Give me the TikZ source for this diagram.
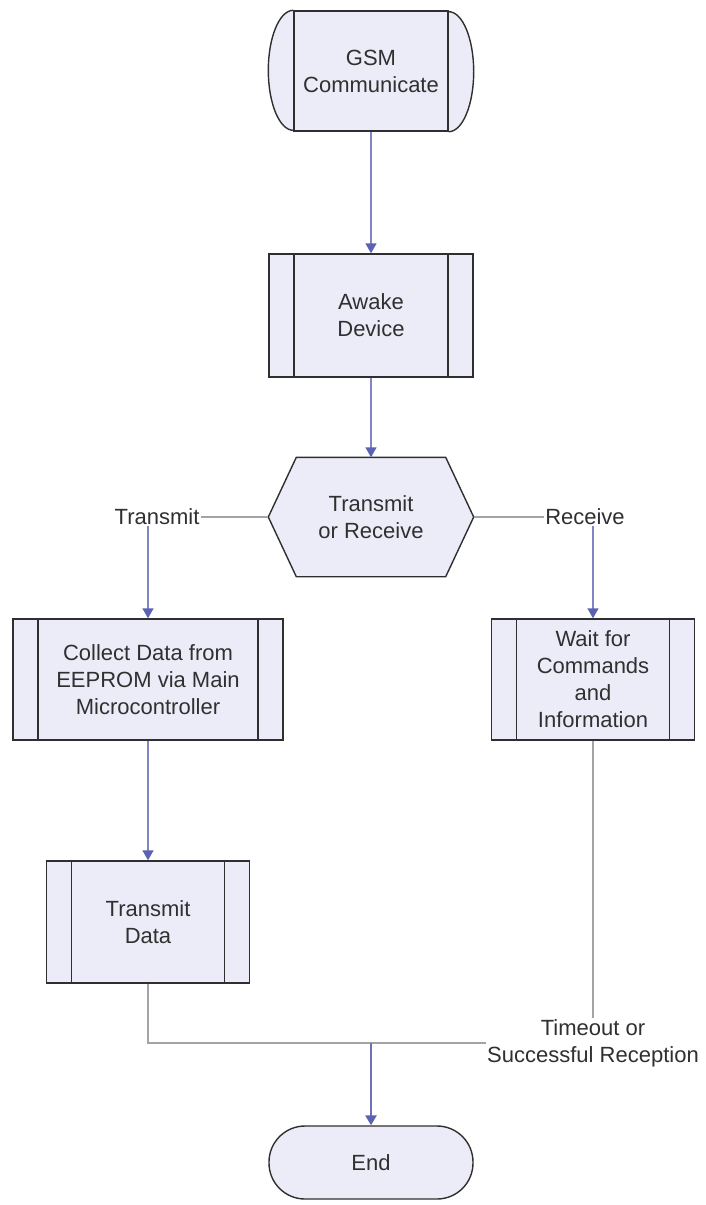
\documentclass[tikz,border=0pt]{standalone}
\usepackage{fontspec}
\setmainfont{Liberation Sans}
\usetikzlibrary{arrows.meta,calc,positioning,backgrounds}
\definecolor{BoxFill}{HTML}{ECECF9}
\definecolor{BoxLine}{HTML}{2F2F2F}
\definecolor{LinkGray}{HTML}{A3A3A8}
\definecolor{LinkBlue}{HTML}{8086C2}
\definecolor{TipBlue}{HTML}{5B62B2}
\definecolor{TextGray}{HTML}{303030}
\tikzset{
  boxtext/.style={font=\fontsize{22}{27}\selectfont,text=TextGray,align=center,inner sep=0pt},
  procbox/.style={boxtext,draw=BoxLine,fill=BoxFill,line width=1.4pt,
    path picture={\draw[BoxLine,line width=1.4pt]
      ([xshift=25pt]path picture bounding box.north west) -- ([xshift=25pt]path picture bounding box.south west)
      ([xshift=-25pt]path picture bounding box.north east) -- ([xshift=-25pt]path picture bounding box.south east);}},
  startbox/.style={boxtext,draw=BoxLine,fill=BoxFill,line width=1.4pt},
  endbox/.style={boxtext,draw=BoxLine,fill=BoxFill,line width=1.4pt,rounded corners=36pt},
  decision/.style={boxtext},
  shapeline/.style={draw=BoxLine,fill=BoxFill,line width=1.4pt},
  linklabel/.style={boxtext,fill=white,inner sep=1pt},
  link/.style={draw=LinkGray,line width=1.3pt},
  flow/.style={draw=LinkBlue,line width=1.6pt,-{Triangle[length=10pt,width=11pt,color=TipBlue]}}
}

\begin{document}
\begin{tikzpicture}[x=1pt,y=-1pt]
  \useasboundingbox (0,0) rectangle (706,1205);
  \node[startbox,minimum width=154pt,minimum height=120pt] (gsm) at (371,71) {GSM\\Communicate};
  \node[procbox,minimum width=204pt,minimum height=123pt] (awake) at (371,315.5) {Awake\\Device};
  \node[decision,minimum width=205pt,minimum height=119pt] (choice) at (371,517) {Transmit\\or Receive};
  \node[procbox,minimum width=270pt,minimum height=121pt] (collect) at (148,679.5) {Collect Data from\\EEPROM via Main\\Microcontroller};
  \node[procbox,minimum width=203pt,minimum height=121pt] (wait) at (593,679.5) {Wait for\\Commands\\and\\Information};
  \node[procbox,minimum width=203pt,minimum height=122pt] (send) at (148,922) {Transmit\\Data};
  \node[endbox,minimum width=204pt,minimum height=73pt] (finish) at (371,1162.5) {End};
  \node[linklabel] (txlabel) at (157,517) {Transmit};
  \node[linklabel] (rxlabel) at (585,517) {Receive};
  \node[linklabel] (donelabel) at (593,1043) {Timeout or\\Successful Reception};
  \coordinate (merge) at (371,1043);
  \begin{scope}[on background layer]
    \path[shapeline] (gsm.north west) arc[start angle=90,end angle=270,x radius=25pt,y radius=60pt];
    \path[shapeline] (gsm.south east) arc[start angle=-90,end angle=90,x radius=25pt,y radius=60pt];
    \path[shapeline] (choice.west) -- ([xshift=28pt]choice.north west) -- ([xshift=-28pt]choice.north east)
      -- (choice.east) -- ([xshift=-28pt]choice.south east) -- ([xshift=28pt]choice.south west) -- cycle;
  \end{scope}
  \draw[flow] (gsm) -- (awake);
  \draw[flow] (awake) -- (choice);
  \draw[link] (choice.west) -- (txlabel);
  \draw[link] (choice.east) -- (rxlabel);
  \draw[flow] (txlabel.south -| collect.north) -- (collect);
  \draw[flow] (rxlabel.south -| wait.north) -- (wait);
  \draw[flow] (collect) -- (send);
  \draw[link] (wait) -- (donelabel);
  \draw[link] (send) |- (merge);
  \draw[link] (donelabel) -- (merge);
  \draw[flow,line width=2.4pt,draw=TipBlue!90] (merge) -- (finish);
\end{tikzpicture}
\end{document}
